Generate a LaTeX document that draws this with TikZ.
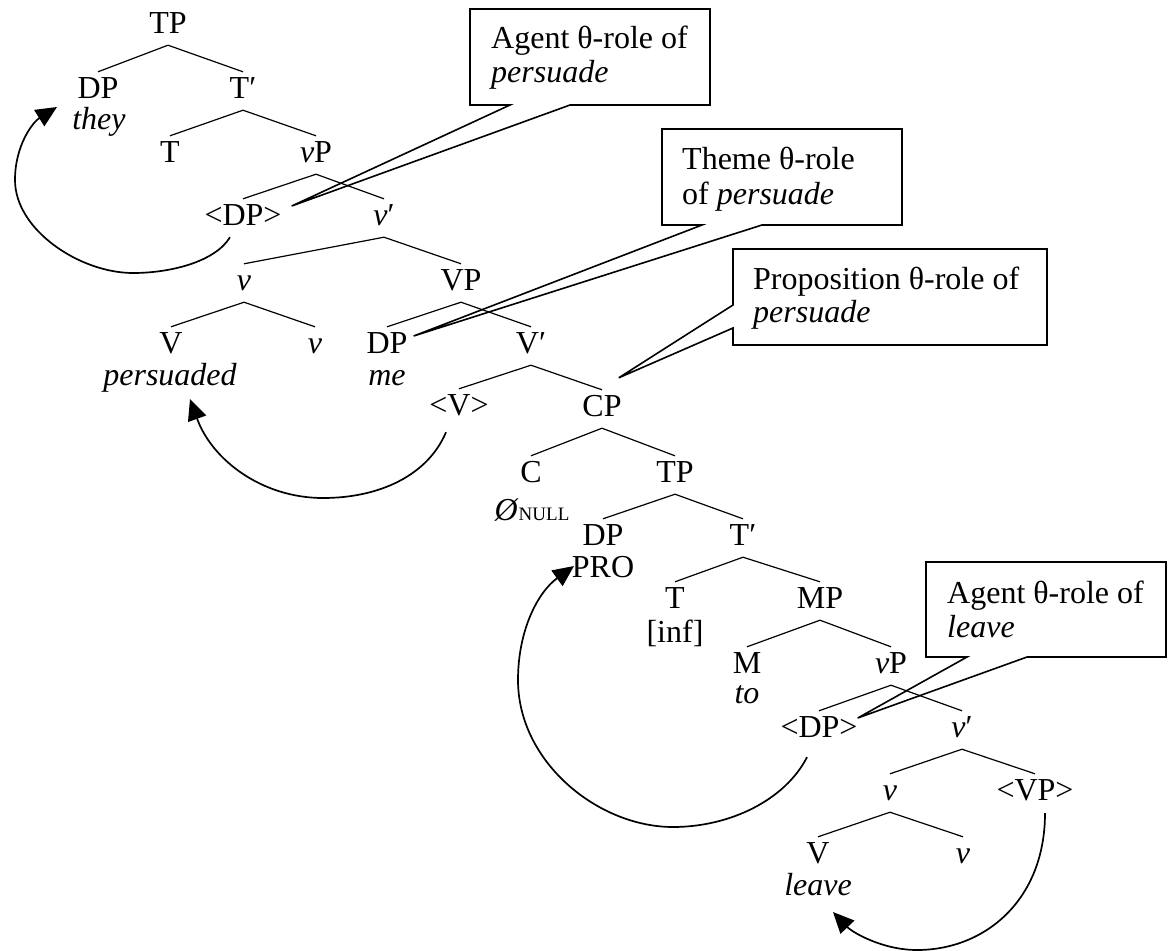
\documentclass[tikz,border=0pt]{standalone}
\usepackage{fontspec}
\setmainfont{Liberation Serif}
\usetikzlibrary{arrows.meta,calc}
\begin{document}
\begin{tikzpicture}[x=1pt,y=-1pt,
  every node/.style={font=\fontsize{32}{34}\selectfont},
  lab/.style={inner xsep=0pt, inner ysep=4pt, text height=22pt, text depth=8pt, anchor=base},
  word/.style={inner sep=0pt, anchor=base, font=\fontsize{32}{34}\selectfont\itshape},
  ctext/.style={inner sep=0pt, anchor=base west},
  branch/.style={line width=1.2pt},
  move/.style={line width=1.7pt, -{Triangle[length=21pt,width=19pt]}},
  callout/.style={line width=1.6pt, line join=miter}
]
\useasboundingbox (0,0) rectangle (1168,951);
\fill[white] (0,0) rectangle (1168,951);

% ---------- tree labels ----------
\node[lab] (TPa)  at (168,33)  {TP};
\node[lab] (DPa)  at (98,98)   {DP};
\node[word] (they) at (99,129) {they};
\node[lab] (Tba)  at (243,98)  {T′};
\node[lab] (Ta)   at (170,162) {T};
\node[lab] (vPa)  at (316,162) {\textit{v}P};
\node[lab] (DPta) at (243,225) {<DP>};
\node[lab] (vba)  at (384,225) {\textit{v}′};
\node[lab] (va)   at (244,290) {\textit{v}};
\node[lab] (VPa)  at (461,290) {VP};
\node[lab] (Va)   at (171,353) {V};
\node[word] (persuaded) at (170,385) {persuaded};
\node[lab] (vsa)  at (315,353) {\textit{v}};
\node[lab] (DPb)  at (387,353) {DP};
\node[word] (me)  at (387,385) {me};
\node[lab] (Vb)   at (531,353) {V′};
\node[lab] (Vt)   at (459,415) {<V>};
\node[lab] (CP)   at (602,416) {CP};
\node[lab] (C)    at (531,482) {C};
\node[inner sep=0pt, anchor=base] (null) at (532,520) {\textit{Ø}{\fontsize{19}{19}\selectfont NULL}};
\node[lab] (TPb)  at (675,482) {TP};
\node[lab] (DPc)  at (603,545) {DP};
\node[inner sep=0pt, anchor=base] (PRO) at (603,577) {PRO};
\node[lab] (Tbb)  at (743,545) {T′};
\node[lab] (Tb)   at (675,608) {T};
\node[inner sep=0pt, anchor=base] (inf) at (675,642) {[inf]};
\node[lab] (MP)   at (820,608) {MP};
\node[lab] (M)    at (747,673) {M};
\node[word] (to)  at (747,703) {to};
\node[lab] (vPb)  at (891,673) {\textit{v}P};
\node[lab] (DPtb) at (819,737) {<DP>};
\node[lab] (vbb)  at (962,737) {\textit{v}′};
\node[lab] (vb)   at (890,800) {\textit{v}};
\node[lab] (VPt)  at (1035,800) {<VP>};
\node[lab] (Vc)   at (818,863) {V};
\node[word] (leave) at (818,895) {leave};
\node[lab] (vsb)  at (963,863) {\textit{v}};

% ---------- branches ----------
\foreach \p/\c in {TPa/DPa, TPa/Tba, Tba/Ta, Tba/vPa, vPa/DPta, vPa/vba,
  vba/va, vba/VPa, va/Va, va/vsa, VPa/DPb, VPa/Vb, Vb/Vt, Vb/CP,
  CP/C, CP/TPb, TPb/DPc, TPb/Tbb, Tbb/Tb, Tbb/MP, MP/M, MP/vPb,
  vPb/DPtb, vPb/vbb, vbb/vb, vbb/VPt, vb/Vc, vb/vsb}
  \draw[branch] (\p.south) -- (\c.north);

% ---------- movement arrows ----------
\coordinate (e1) at (57,107);
\coordinate (e2) at (190,399);
\coordinate (e3) at (574,566);
\coordinate (e4) at (833,912);
\draw[move] ([xshift=-13pt]DPta.south) .. controls (215,262) and (170,273) .. (133,273)
  .. controls (80,273) and (15,230) .. (15,180)
  .. controls (15,145) and (33,122) .. (e1);
\draw[move] ([shift={(-13pt,-5pt)}]Vt.south) .. controls (428,475) and (380,498) .. (323,498)
  .. controls (262,498) and (212,460) .. (e2);
\draw[move] ([shift={(-12pt,-8pt)}]DPtb.south) .. controls (785,800) and (730,827) .. (673,827)
  .. controls (598,827) and (518,762) .. (518,680)
  .. controls (518,630) and (538,592) .. (e3);
\draw[move] ([shift={(10pt,-1pt)}]VPt.south) .. controls (1045,900) and (985,950) .. (917,950)
  .. controls (882,950) and (852,932) .. (e4);

% ---------- callouts ----------
\draw[callout] (470,9) -- (710,9) -- (710,105) -- (570,105)
  -- ([shift={(10pt,12pt)}]DPta.east) -- (510,105) -- (470,105) -- cycle;
\node[ctext] (c1a) at (491,48) {Agent θ-role of};
\node[ctext] (c1b) at (491,82) {\textit{persuade}};

\draw[callout] (662,129) -- (902,129) -- (902,225) -- (762,225)
  -- ([shift={(6pt,10pt)}]DPb.east) -- (702,225) -- (662,225) -- cycle;
\node[ctext] (c2a) at (682,169) {Theme θ-role};
\node[ctext] (c2b) at (682,204) {of \textit{persuade}};

\draw[callout] (733,249) -- (1047,249) -- (1047,345) -- (733,345) -- (733,328)
  -- ([shift={(-3pt,12pt)}]CP.north east) -- (733,305) -- cycle;
\node[ctext] (c3a) at (753,289) {Proposition θ-role of};
\node[ctext] (c3b) at (753,322) {\textit{persuade}};

\draw[callout] (926,562) -- (1166,562) -- (1166,657) -- (1027,657)
  -- ([shift={(0pt,12pt)}]DPtb.east) -- (967,657) -- (926,657) -- cycle;
\node[ctext] (c4a) at (947,603) {Agent θ-role of};
\node[ctext] (c4b) at (947,637) {\textit{leave}};
\end{tikzpicture}
\end{document}
